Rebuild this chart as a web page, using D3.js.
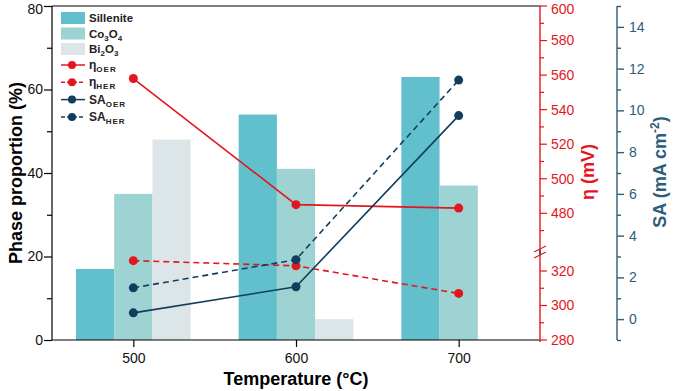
<!DOCTYPE html>
<html><head><meta charset="utf-8">
<script src="https://cdn.jsdelivr.net/npm/d3@7"></script>
<style>body{margin:0;background:#fff}svg{display:block;font-family:"Liberation Sans",Arial,sans-serif}</style>
</head><body><svg id="c" width="677" height="391"></svg>
<script>
const temps = [500, 600, 700];
const sillenite = [17, 54, 63];
const co3o4 = [35, 41, 37];
const bi2o3 = [48, 5, 0];
const etaOER = [558, 485, 483];
const etaHER = [326, 323, 307];
const saOER = [0.3, 1.55, 9.75];
const saHER = [1.5, 2.85, 11.45];
const leftTicks = [0, 20, 40, 60, 80];
const etaUpperTicks = [480, 500, 520, 540, 560, 580, 600];
const etaLowerTicks = [280, 300, 320];
const saTicks = [0, 2, 4, 6, 8, 10, 12, 14];

const svg = d3.select("#c");
const L = 52, R = 540, T = 6, B = 340;
const RED = "#e3161d", NAVY = "#103f5e", SAAX = "#2c5d7a";
const x = d3.scaleLinear().domain([450, 750]).range([L, R]);
const y = d3.scaleLinear().domain([0, 80]).range([B, T]);
const sa = d3.scaleLinear().domain([-1, 15]).range([B, T]);
const etaUp = d3.scaleLinear().domain([458, 600]).range([251.3, T]);
const etaLo = d3.scaleLinear().domain([280, 330]).range([B, 253.75]);
const eta = v => v >= 400 ? etaUp(v) : etaLo(v);

// bars
const bw = 23.5;
const series = [
  {name: "Sillenite", vals: sillenite, color: "#62bfcc", off: -1.5},
  {name: "Co3O4", vals: co3o4, color: "#9dd3d2", off: -0.5},
  {name: "Bi2O3", vals: bi2o3, color: "#dce6e8", off: 0.5}
];
series.forEach(s => {
  svg.append("g").selectAll("rect").data(temps.map((t, i) => ({t, v: s.vals[i]})).filter(d => d.v > 0))
    .join("rect")
    .attr("x", d => x(d.t + s.off * bw))
    .attr("width", x(450 + bw) - x(450))
    .attr("y", d => y(d.v))
    .attr("height", d => B - y(d.v))
    .attr("fill", s.color);
});

// lines
const lines = [
  {vals: etaOER, sc: eta, color: RED, dash: null},
  {vals: etaHER, sc: eta, color: RED, dash: "6,4"},
  {vals: saOER, sc: sa, color: NAVY, dash: null},
  {vals: saHER, sc: sa, color: NAVY, dash: "6,4"}
];
lines.forEach(l => {
  const pts = temps.map((t, i) => [x(t), l.sc(l.vals[i])]);
  svg.append("path").attr("d", d3.line()(pts)).attr("fill", "none")
    .attr("stroke", l.color).attr("stroke-width", 1.6).attr("stroke-dasharray", l.dash);
  svg.append("g").selectAll("circle").data(pts).join("circle")
    .attr("cx", d => d[0]).attr("cy", d => d[1]).attr("r", 4.5).attr("fill", l.color);
});

// frame
svg.append("line").attr("x1", L).attr("x2", R).attr("y1", T).attr("y2", T).attr("stroke", "#000").attr("stroke-width", 1.2);

// left axis
const gl = svg.append("g").attr("transform", `translate(${L},0)`);
gl.call(d3.axisLeft(y).tickValues(d3.range(0, 81, 10)).tickSize(6).tickFormat(d => leftTicks.includes(d) ? d : ""));
gl.selectAll(".tick line").attr("x2", d => leftTicks.includes(d) ? -8 : -5);
gl.select(".domain").attr("d", `M0,${T}V${B}`);
gl.selectAll("text").attr("font-size", 14).attr("fill", "#111").attr("font-family", "Liberation Sans, Arial")
  .attr("dy", d => d === 80 ? "0.55em" : "0.32em");
gl.selectAll("path,line").attr("stroke", "#000").attr("stroke-width", 1.2);

// bottom axis
const gb = svg.append("g").attr("transform", `translate(0,${B})`);
gb.call(d3.axisBottom(x).tickValues(temps).tickSize(7).tickPadding(6));
gb.select(".domain").attr("d", `M${L},0H${R}`);
gb.selectAll("text").attr("font-size", 14).attr("fill", "#111").attr("font-family", "Liberation Sans, Arial");
gb.selectAll("path,line").attr("stroke", "#000").attr("stroke-width", 1.2);

// eta axis
const ge = svg.append("g").attr("transform", `translate(${R},0)`);
ge.append("line").attr("y1", T).attr("y2", B + 2).attr("stroke", RED).attr("stroke-width", 1.4);
const etaMinor = [470, 490, 510, 530, 550, 570, 590, 290, 310];
etaMinor.forEach(v => ge.append("line").attr("x1", 0).attr("x2", 4).attr("y1", eta(v)).attr("y2", eta(v)).attr("stroke", RED).attr("stroke-width", 1.2));
etaUpperTicks.concat(etaLowerTicks).forEach(v => {
  ge.append("line").attr("x1", 0).attr("x2", 7).attr("y1", eta(v)).attr("y2", eta(v)).attr("stroke", RED).attr("stroke-width", 1.2);
  ge.append("text").attr("x", 11).attr("y", eta(v)).attr("dy", v === 600 ? "0.55em" : "0.35em").attr("font-size", 14).attr("fill", RED).text(v);
});
// break marks
[-3, 3].forEach(o => ge.append("line").attr("x1", -6).attr("x2", 6).attr("y1", 252 + o + 3).attr("y2", 252 + o - 3).attr("stroke", RED).attr("stroke-width", 1.2));
ge.append("rect").attr("x", -1).attr("y", 250).attr("width", 2).attr("height", 5).attr("fill", "#555");
svg.append("text").attr("transform", "translate(594,172) rotate(-90)").attr("text-anchor", "middle")
  .attr("font-size", 18).attr("font-weight", "bold").attr("fill", RED).text("η (mV)");

// SA axis
const SX = 617;
const gs = svg.append("g").attr("transform", `translate(${SX},0)`);
gs.call(d3.axisRight(sa).tickValues(d3.range(-1, 16, 1)).tickSize(7).tickPadding(5).tickFormat(d => saTicks.includes(d) ? d : ""));
gs.selectAll(".tick line").attr("x2", d => saTicks.includes(d) ? 7 : 4);
gs.select(".domain").attr("d", `M0,${T}V${B}`);
gs.selectAll("text").attr("font-size", 14).attr("fill", SAAX).attr("font-family", "Liberation Sans, Arial");
gs.selectAll("path,line").attr("stroke", SAAX).attr("stroke-width", 1.4);
const st = svg.append("text").attr("transform", "translate(666,172) rotate(-90)").attr("text-anchor", "middle")
  .attr("font-size", 18).attr("font-weight", "bold").attr("fill", SAAX);
st.append("tspan").text("SA (mA cm");
st.append("tspan").attr("dy", -7).attr("font-size", 12).text("-2");
st.append("tspan").attr("dy", 7).text(")");

// axis titles
svg.append("text").attr("transform", "translate(22,173) rotate(-90)").attr("text-anchor", "middle")
  .attr("font-size", 18).attr("font-weight", "bold").attr("fill", "#000").text("Phase proportion (%)");
svg.append("text").attr("x", x(600)).attr("y", 385).attr("text-anchor", "middle")
  .attr("font-size", 18).attr("font-weight", "bold").attr("fill", "#000").text("Temperature (°C)");

// legend
const lg = svg.append("g");
const barLeg = [["Sillenite", null], ["Co", "3", "O", "4"], ["Bi", "2", "O", "3"]];
series.forEach((s, i) => {
  const yy = 12 + i * 15.5;
  lg.append("rect").attr("x", 61).attr("y", yy).attr("width", 24).attr("height", 12).attr("fill", s.color);
  const t = lg.append("text").attr("x", 89).attr("y", yy + 10).attr("font-size", 11.5).attr("font-weight", "bold").attr("fill", "#222");
  const parts = barLeg[i];
  if (parts[1] === null) t.text(parts[0]);
  else {
    t.append("tspan").text(parts[0]);
    t.append("tspan").attr("font-size", 8).attr("dy", 3).text(parts[1]);
    t.append("tspan").attr("dy", -3).text(parts[2]);
    t.append("tspan").attr("font-size", 8).attr("dy", 3).text(parts[3]);
  }
});
const lineLeg = [["η", "OER"], ["η", "HER"], ["SA", "OER"], ["SA", "HER"]];
lines.forEach((l, i) => {
  const yy = 65 + i * 17.3;
  lg.append("line").attr("x1", 61).attr("x2", 85).attr("y1", yy).attr("y2", yy).attr("stroke", l.color).attr("stroke-width", 1.5).attr("stroke-dasharray", l.dash ? "4,2" : null);
  lg.append("circle").attr("cx", 72).attr("cy", yy).attr("r", 4).attr("fill", l.color);
  const t = lg.append("text").attr("x", 89).attr("y", yy + 4).attr("font-size", 12).attr("font-weight", "bold").attr("fill", "#222");
  t.append("tspan").text(lineLeg[i][0]);
  t.append("tspan").attr("font-size", 8).attr("dy", 3).attr("letter-spacing", 1).text(lineLeg[i][1]);
});
</script></body></html>
